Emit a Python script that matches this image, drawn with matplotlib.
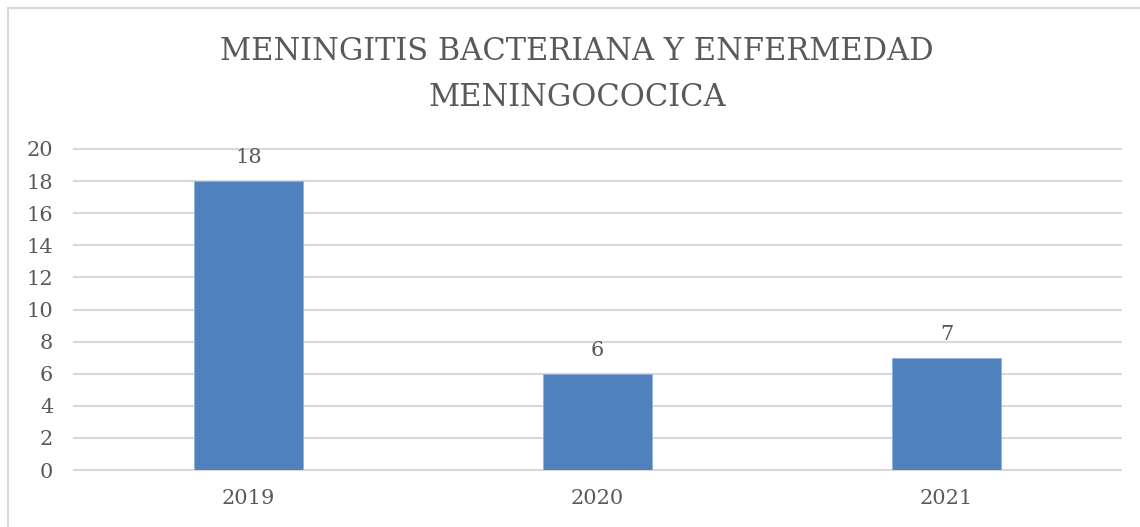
import matplotlib.pyplot as plt
from matplotlib.patches import Rectangle

years = ['2019', '2020', '2021']
cases = [18, 6, 7]
yticks = list(range(0, 21, 2))
title_lines = ['MENINGITIS BACTERIANA Y ENFERMEDAD', 'MENINGOCOCICA']

plt.rcParams['font.family'] = ['DejaVu Serif']
text_color = '#595959'

fig = plt.figure(figsize=(11.4, 5.27), dpi=100)
# chart frame
fig.patches.append(Rectangle((8 / 1140, -0.1), 1.2, 1 - 8 / 527 + 0.1,
                             transform=fig.transFigure, fill=False,
                             edgecolor='#d9d9d9', linewidth=1.5))

ax = fig.add_axes([74 / 1140, 1 - 470 / 527, (1121 - 74) / 1140, (470 - 149) / 527])
x = range(len(years))
ax.bar(x, cases, width=0.315, color='#4f81bd', edgecolor='#8fb0dc',
       linewidth=0.6, zorder=3)
for xi, v in zip(x, cases):
    ax.text(xi, v + 0.85, str(v), ha='center', va='bottom', fontsize=15, color=text_color)

ax.set_xlim(-0.5, 2.5)
ax.set_ylim(0, 20)
ax.set_yticks(yticks)
ax.set_xticks(list(x))
ax.set_xticklabels(years)
ax.grid(axis='y', color='#d9d9d9', linewidth=1.5, zorder=0)
for gl in ax.get_ygridlines():
    gl.set_clip_on(False)
for s in ax.spines.values():
    s.set_visible(False)
ax.tick_params(length=0, labelsize=15, labelcolor=text_color)
ax.tick_params(axis='y', pad=15)
ax.tick_params(axis='x', pad=14)

fig.text(0.506, 1 - 52 / 527, title_lines[0], ha='center', va='center',
         fontsize=22, color=text_color)
fig.text(0.506, 1 - 97 / 527, title_lines[1], ha='center', va='center',
         fontsize=22, color=text_color)

fig.savefig('out.png', dpi=100)
